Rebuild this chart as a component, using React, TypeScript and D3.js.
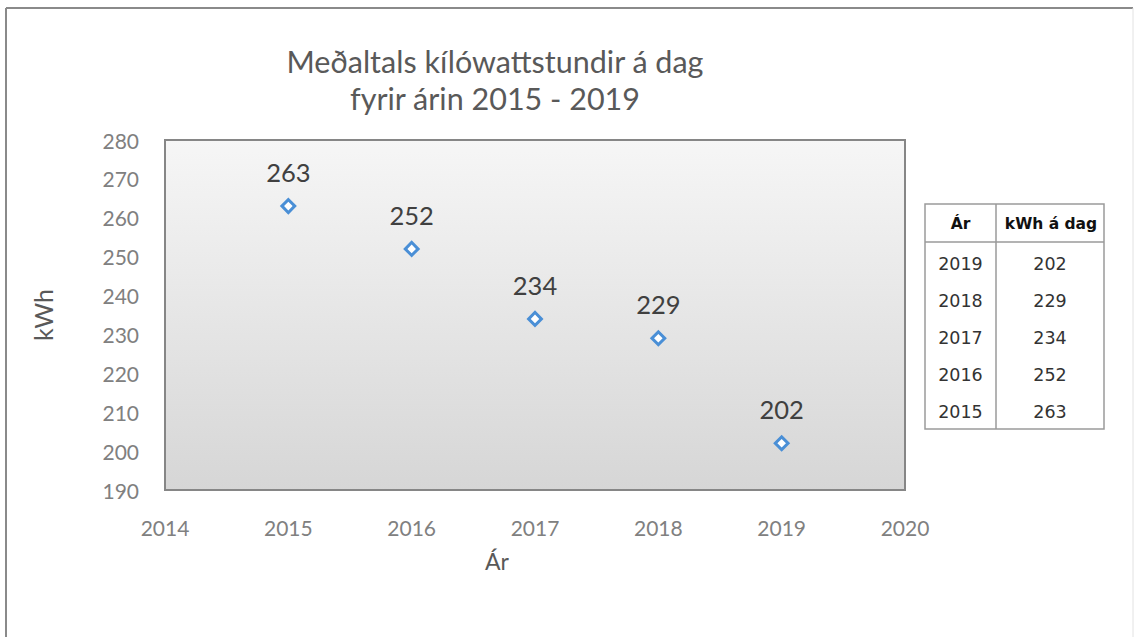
import { useMemo } from 'react';
import * as d3 from 'd3';

const years = [2015, 2016, 2017, 2018, 2019];
const kwh = [263, 252, 234, 229, 202];
const yTicks = [190, 200, 210, 220, 230, 240, 250, 260, 270, 280];
const xTicks = [2014, 2015, 2016, 2017, 2018, 2019, 2020];
const titleLines = ['Meðaltals kílówattstundir á dag', 'fyrir árin 2015 - 2019'];
const tableHeader = ['Ár', 'kWh á dag'];

const font = 'Lato, "Open Sans", sans-serif';
const tableFont = '"DejaVu Sans", Verdana, sans-serif';

export default function App() {
  const width = 1135;
  const height = 637;
  const plot = { left: 165, top: 140, right: 905, bottom: 490 };

  const x = d3.scaleLinear().domain([2014, 2020]).range([plot.left, plot.right]);
  const y = d3.scaleLinear().domain([190, 280]).range([plot.bottom, plot.top]);

  const diamond = useMemo(() => d3.symbol().type(d3.symbolSquare).size(82)(), []);

  // table rows, newest year first
  const rows = years.map((yr, i) => ({ yr, v: kwh[i] })).reverse();
  const tbl = { left: 925, right: 1104, top: 204, head: 242, mid: 996, rowH: 37 };

  return (
    <svg
      width={width}
      height={height}
      style={{ position: 'absolute', left: 0, top: 0, display: 'block', background: '#fff' }}
    >
      <defs>
        <linearGradient id="plotBg" x1="0" y1="0" x2="0" y2="1">
          <stop offset="0%" stopColor="#f6f6f6" />
          <stop offset="100%" stopColor="#d6d6d6" />
        </linearGradient>
      </defs>

      {/* outer frame */}
      <line x1={6} y1={8} x2={1133} y2={8} stroke="#8a8a8a" strokeWidth={2} />
      <line x1={6} y1={8} x2={6} y2={height} stroke="#8a8a8a" strokeWidth={2} />
      <line x1={1133} y1={8} x2={1133} y2={height} stroke="#e2e2e2" strokeWidth={1} />

      {/* title */}
      {titleLines.map((t, i) => (
        <text
          key={t}
          x={495}
          y={73 + i * 37}
          textAnchor="middle"
          fill="#595959"
          style={{ fontFamily: font, fontSize: '30.5px' }}
        >
          {t}
        </text>
      ))}

      {/* plot area */}
      <rect
        x={plot.left}
        y={plot.top}
        width={plot.right - plot.left}
        height={plot.bottom - plot.top}
        fill="url(#plotBg)"
        stroke="#868686"
        strokeWidth={2}
      />

      {/* y tick labels */}
      {yTicks.map((t) => (
        <text
          key={t}
          x={139}
          y={y(t)}
          textAnchor="end"
          dominantBaseline="central"
          fill="#808080"
          style={{ fontFamily: font, fontSize: '21px' }}
        >
          {t}
        </text>
      ))}

      {/* x tick labels */}
      {xTicks.map((t) => (
        <text
          key={t}
          x={x(t)}
          y={527}
          textAnchor="middle"
          dominantBaseline="central"
          fill="#808080"
          style={{ fontFamily: font, fontSize: '21px' }}
        >
          {t}
        </text>
      ))}

      {/* axis titles */}
      <text
        x={497}
        y={561}
        textAnchor="middle"
        dominantBaseline="central"
        fill="#595959"
        style={{ fontFamily: font, fontSize: '23px' }}
      >
        Ár
      </text>
      <text
        transform={`translate(43, 315) rotate(-90)`}
        textAnchor="middle"
        dominantBaseline="central"
        fill="#595959"
        style={{ fontFamily: font, fontSize: '25px' }}
      >
        kWh
      </text>

      {/* points + labels */}
      {years.map((yr, i) => (
        <g key={yr} transform={`translate(${x(yr)}, ${y(kwh[i])})`}>
          <path d={diamond} transform="rotate(45)" fill="#ffffff" stroke="#4a8fd6" strokeWidth={3} />
          <text
            y={-34}
            textAnchor="middle"
            dominantBaseline="central"
            fill="#404040"
            style={{ fontFamily: font, fontSize: '25.5px' }}
          >
            {kwh[i]}
          </text>
        </g>
      ))}

      {/* data table */}
      <g style={{ fontFamily: tableFont }}>
        <rect
          x={tbl.left}
          y={tbl.top}
          width={tbl.right - tbl.left}
          height={tbl.head - tbl.top + rows.length * tbl.rowH + 2}
          fill="#fff"
          stroke="#9a9a9a"
          strokeWidth={1.5}
        />
        <line x1={tbl.left} x2={tbl.right} y1={tbl.head} y2={tbl.head} stroke="#9a9a9a" strokeWidth={1.5} />
        <line
          x1={tbl.mid}
          x2={tbl.mid}
          y1={tbl.top}
          y2={tbl.head + rows.length * tbl.rowH + 2}
          stroke="#9a9a9a"
          strokeWidth={1.5}
        />
        {tableHeader.map((h, i) => (
          <text
            key={h}
            x={i === 0 ? (tbl.left + tbl.mid) / 2 : (tbl.mid + tbl.right) / 2 + 1}
            y={(tbl.top + tbl.head) / 2 + 1}
            textAnchor="middle"
            dominantBaseline="central"
            fill="#111"
            style={{ fontSize: '15.5px', fontWeight: 700 }}
          >
            {h}
          </text>
        ))}
        {rows.map((r, i) => (
          <g key={r.yr}>
            <text
              x={(tbl.left + tbl.mid) / 2}
              y={tbl.head + tbl.rowH * (i + 0.6)}
              textAnchor="middle"
              dominantBaseline="central"
              fill="#333"
              style={{ fontSize: '17.5px' }}
            >
              {r.yr}
            </text>
            <text
              x={(tbl.mid + tbl.right) / 2}
              y={tbl.head + tbl.rowH * (i + 0.6)}
              textAnchor="middle"
              dominantBaseline="central"
              fill="#333"
              style={{ fontSize: '17.5px' }}
            >
              {r.v}
            </text>
          </g>
        ))}
      </g>
    </svg>
  );
}
